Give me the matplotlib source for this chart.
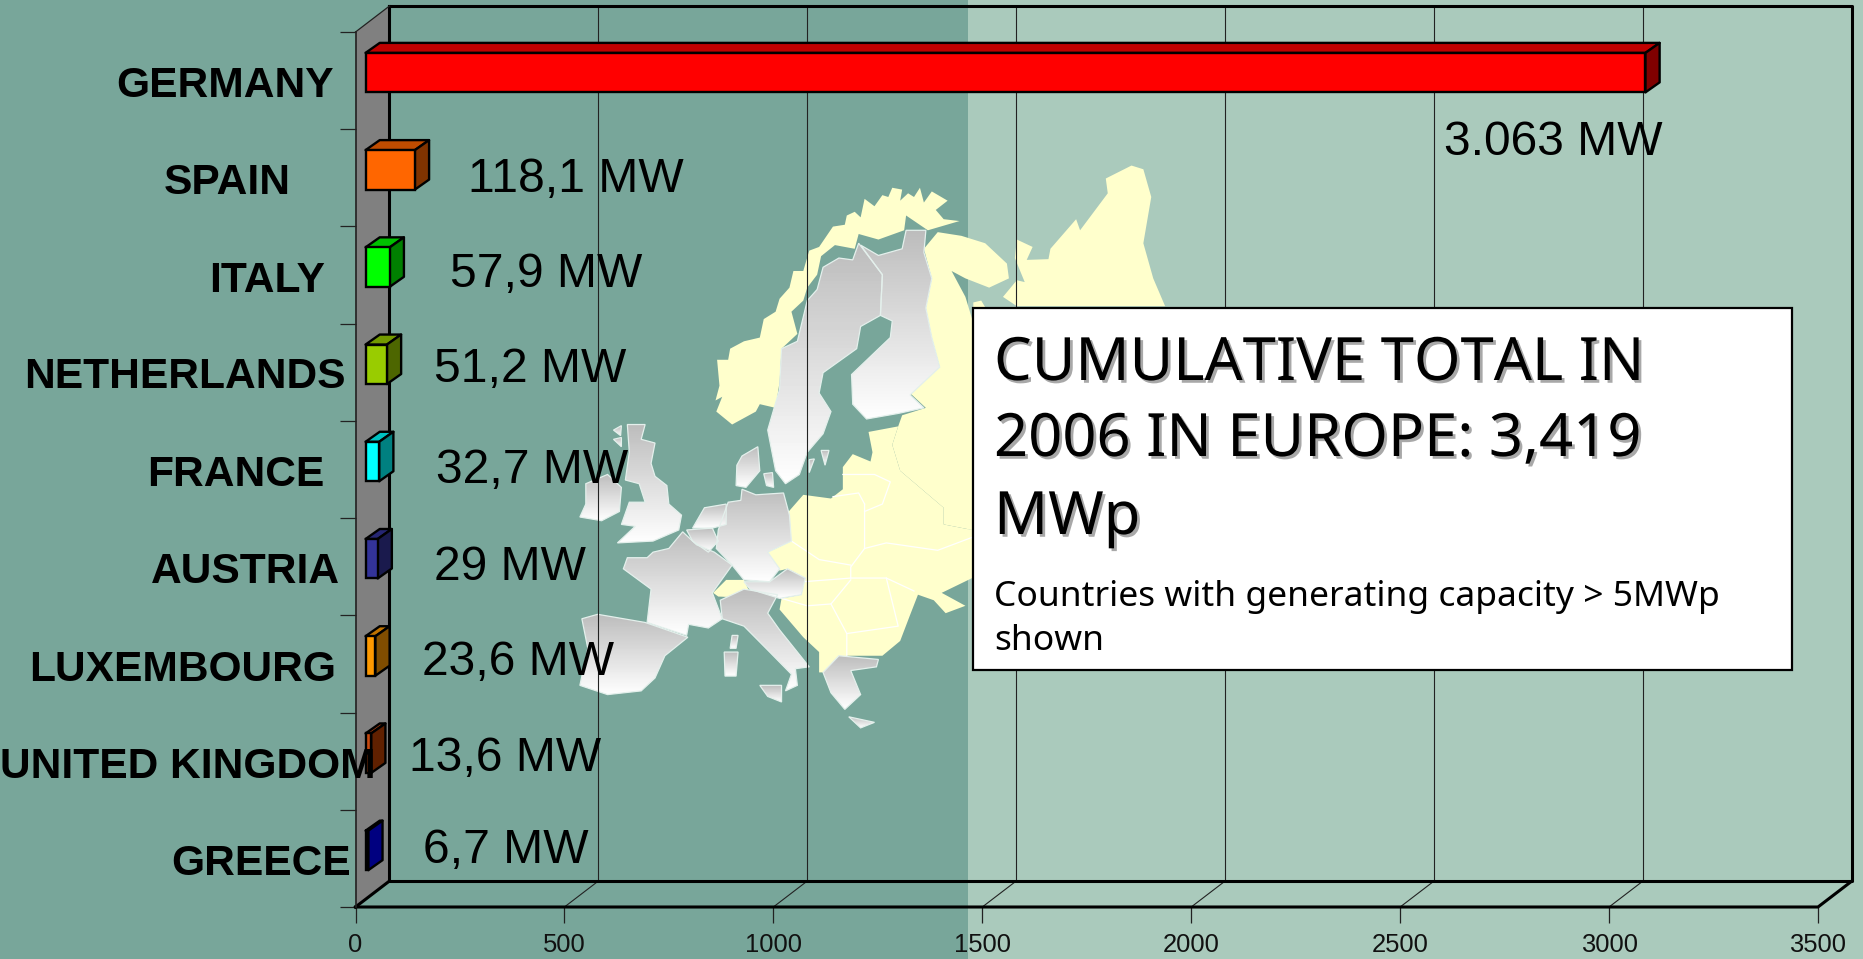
import numpy as np
import matplotlib
matplotlib.use('Agg')
import matplotlib.pyplot as plt
import matplotlib.patheffects as pe
from matplotlib.patches import Polygon, Rectangle

countries = ['GERMANY', 'SPAIN', 'ITALY', 'NETHERLANDS', 'FRANCE', 'AUSTRIA',
             'LUXEMBOURG', 'UNITED KINGDOM', 'GREECE']
capacity = [3063, 118.1, 57.9, 51.2, 32.7, 29, 23.6, 13.6, 6.7]
value_labels = ['3.063 MW', '118,1 MW', '57,9 MW', '51,2 MW', '32,7 MW', '29 MW',
                '23,6 MW', '13,6 MW', '6,7 MW']
x_ticks = [0, 500, 1000, 1500, 2000, 2500, 3000, 3500]

front_colors = ['#ff0000', '#ff6600', '#00ff00', '#99cc00', '#00ffff', '#333399',
                '#ff9900', '#c84a10', '#0000a0']
top_colors = ['#c00000', '#c04c00', '#00c000', '#739900', '#00c0c0', '#262673',
              '#c07300', '#963810', '#000080']
side_colors = ['#800000', '#803300', '#008000', '#4d6600', '#008080', '#1a1a4d',
               '#804d00', '#602000', '#000080']

# label placement, in pixels of the picture (text boxes sit freely on the slide)
name_right = [334, 291, 325, 346, 324, 340, 336, 376, 351]
name_base = [97, 194, 292, 388, 486, 583, 681, 778, 875]
value_left = [1444, 468, 450, 434, 436, 434, 422, 409, 423]
value_base = [155, 192, 287, 382, 483, 580, 675, 771, 863]

LEFT_BG = '#78a69a'
RIGHT_BG = '#aacabc'
YELLOW = '#ffffcc'

W, H = 1863, 959
fig = plt.figure(figsize=(W / 100, H / 100), dpi=100)

bg = fig.add_axes([0, 0, 1, 1], zorder=0)
bg.axis('off')
bg.add_patch(Rectangle((0, 0), 968, H, color=LEFT_BG, lw=0))
bg.add_patch(Rectangle((968, 0), W - 968, H, color=RIGHT_BG, lw=0))


def m(pts):
    a = np.array(pts, dtype=float)
    return np.column_stack([570 + a[:, 0] / 2.529, 160 + a[:, 1] / 2.703])


yellow_shapes = [
    # norway
    [(370, 680), (385, 640), (368, 650), (378, 610), (372, 540), (400, 540), (405, 510), (440, 490),
     (480, 480), (490, 430), (520, 410), (530, 375), (555, 345), (565, 300), (590, 300), (605, 245),
     (630, 235), (665, 180), (695, 175), (700, 150), (720, 140), (735, 155), (745, 105), (770, 125),
     (790, 95), (805, 100), (815, 75), (840, 80), (835, 110), (855, 90), (870, 100), (885, 75),
     (895, 115), (915, 85), (955, 110), (925, 135), (945, 160), (985, 165), (905, 190), (850, 150),
     (845, 190), (780, 215), (730, 200), (720, 240), (670, 230), (635, 260), (625, 310), (600, 345),
     (590, 380), (560, 410), (575, 470), (535, 510), (530, 600), (520, 670), (480, 660), (470, 680),
     (410, 715)],
    # kola and russia
    [(895, 240), (930, 195), (990, 205), (1050, 225), (1105, 280), (1110, 320), (1060, 345),
     (1000, 320), (965, 300), (1000, 370), (1017, 430), (1100, 500), (1100, 1130), (1017, 1130),
     (1017, 1000), (945, 985), (945, 940), (835, 840), (815, 770), (830, 720), (840, 690),
     (900, 670), (860, 630), (935, 560), (915, 480), (900, 400), (915, 320)],
    # north east, above the box
    [(1130, 215), (1170, 235), (1155, 270), (1210, 268), (1215, 240), (1280, 160), (1290, 190),
     (1360, 90), (1355, 50), (1420, 15), (1450, 25), (1470, 100), (1450, 225), (1475, 320),
     (1505, 395), (1130, 395), (1095, 370), (1130, 325), (1150, 330), (1125, 265)],
    [(1020, 385), (1040, 380), (1050, 398), (1020, 398)],
    # eastern europe
    [(545, 960), (590, 905), (660, 915), (690, 890), (690, 830), (715, 795), (760, 815), (765, 790),
     (755, 735), (830, 720), (815, 770), (835, 840), (945, 940), (945, 985), (1017, 1000),
     (1017, 1130), (940, 1170), (1000, 1205), (950, 1225), (920, 1190), (880, 1175), (860, 1230),
     (835, 1300), (790, 1340), (700, 1340), (670, 1385), (630, 1385), (630, 1330), (590, 1290),
     (530, 1215), (535, 1185), (585, 1175), (595, 1130), (550, 1105), (530, 1110), (500, 1060),
     (560, 1030)],
    # switzerland
    [(362, 1170), (395, 1135), (440, 1135), (455, 1170), (420, 1182), (375, 1180)],
]
for shape in yellow_shapes:
    bg.add_patch(Polygon(m(shape), closed=True, fc=YELLOW, ec='none'))

inner_borders = [
    [(745, 930), (745, 1050), (710, 1100), (710, 1130)],
    [(690, 850), (770, 850), (810, 870), (790, 930), (745, 950)],
    [(665, 910), (730, 900), (745, 930)],
    [(560, 1030), (630, 1080), (710, 1095)],
    [(745, 1050), (800, 1035), (930, 1055), (1017, 1020)],
    [(590, 1140), (710, 1130), (800, 1130), (870, 1165)],
    [(710, 1135), (660, 1200), (600, 1205), (535, 1185)],
    [(800, 1130), (830, 1260), (700, 1280), (700, 1340)],
    [(660, 1200), (700, 1280)],
]
for line in inner_borders:
    pts = m(line)
    bg.plot(pts[:, 0], pts[:, 1], color='white', lw=0.9)

grey_shapes = [
    # sweden
    [(730, 225), (790, 310), (785, 420), (735, 450), (725, 510), (640, 575), (630, 630), (660, 680),
     (640, 740), (600, 790), (580, 850), (545, 875), (520, 840), (500, 730), (530, 620), (535, 510),
     (575, 490), (600, 380), (625, 350), (640, 290), (680, 265), (715, 270)],
    # finland
    [(850, 190), (900, 190), (895, 250), (915, 320), (900, 400), (915, 480), (935, 560), (860, 635),
     (895, 670), (830, 685), (750, 700), (715, 660), (712, 580), (810, 480), (815, 435), (785, 420),
     (790, 310), (735, 230), (780, 258), (840, 240)],
    # uk
    [(145, 715), (190, 715), (180, 755), (215, 765), (205, 820), (215, 855), (245, 880), (250, 930),
     (282, 960), (275, 1000), (210, 1030), (120, 1035), (165, 990), (130, 985), (150, 925), (190, 925),
     (175, 875), (140, 865), (150, 790)],
    [(110, 730), (130, 718), (128, 745)],
    [(110, 755), (130, 750), (130, 775)],
    # ireland
    [(40, 875), (95, 850), (130, 885), (125, 950), (80, 975), (25, 965), (40, 930)],
    # denmark
    [(435, 800), (475, 775), (480, 840), (445, 885), (420, 880), (422, 825)],
    [(490, 848), (512, 845), (515, 885), (497, 880)],
    [(635, 785), (655, 785), (645, 825)],
    [(605, 810), (618, 808), (605, 845)],
    # germany
    [(435, 890), (470, 905), (540, 900), (555, 960), (560, 1030), (500, 1060), (530, 1105), (505, 1140),
     (440, 1135), (410, 1095), (370, 1050), (375, 1000), (400, 925), (432, 920)],
    # netherlands, belgium
    [(340, 940), (395, 930), (395, 985), (360, 995), (310, 995)],
    [(295, 1000), (360, 995), (375, 1030), (350, 1060), (310, 1030)],
    # france
    [(285, 1005), (320, 1040), (365, 1060), (410, 1095), (360, 1170), (385, 1240), (350, 1265),
     (300, 1255), (295, 1285), (195, 1250), (205, 1160), (135, 1105), (145, 1075), (195, 1075),
     (210, 1060), (250, 1050)],
    # spain
    [(30, 1240), (70, 1228), (190, 1250), (298, 1290), (240, 1340), (215, 1400), (180, 1435), (95, 1445),
     (25, 1420), (45, 1320)],
    # italy
    [(380, 1190), (440, 1160), (525, 1175), (500, 1225), (530, 1270), (605, 1370), (570, 1375),
     (575, 1420), (545, 1435), (560, 1390), (505, 1330), (440, 1260), (385, 1240)],
    [(390, 1330), (425, 1330), (420, 1395), (392, 1395)],
    [(410, 1285), (425, 1285), (420, 1320), (405, 1320)],
    [(480, 1420), (535, 1420), (535, 1465), (500, 1450)],
    # austria
    [(440, 1140), (505, 1140), (550, 1105), (595, 1130), (585, 1175), (530, 1185), (455, 1160)],
    # greece
    [(640, 1385), (680, 1340), (780, 1350), (775, 1370), (710, 1380), (735, 1445), (700, 1480),
     (695, 1485), (660, 1440)],
    [(705, 1505), (770, 1520), (735, 1535)],
]
ramp = np.linspace(0.74, 1.0, 64).reshape(-1, 1)
for shape in grey_shapes:
    pts = m(shape)
    poly = Polygon(pts, closed=True, fc='none', ec='#e4f0ec', lw=0.9, zorder=3)
    bg.add_patch(poly)
    im = bg.imshow(ramp, cmap='gray', vmin=0, vmax=1, aspect='auto', zorder=2,
                   extent=[pts[:, 0].min(), pts[:, 0].max(), pts[:, 1].max(), pts[:, 1].min()])
    im.set_clip_path(poly)
bg.set_xlim(0, W)
bg.set_ylim(H, 0)

# the chart, front plane of the oblique box
ax = fig.add_axes([355.5 / W, (H - 907) / H, (1818 - 355.5) / W, (907 - 32) / H], zorder=1)
ax.patch.set_visible(False)
for s in ax.spines.values():
    s.set_visible(False)
ax.set_xlim(0, 3500)
ax.set_ylim(8.5, -0.5)
ax.set_xticks(x_ticks)
ax.set_xticklabels([str(t) for t in x_ticks], fontsize=18.4, family='Liberation Sans', color='#111111')
ax.set_yticks(np.arange(-0.5, 9))
ax.set_yticklabels([])
ax.tick_params(axis='both', length=11.5, width=0.9, color='#222222')
ax.tick_params(axis='x', pad=7)

depth_x, depth_y = 81.3, 0.2675
top, bottom, xmax = -0.5, 8.5, 3500

ax.fill([0, depth_x, depth_x, 0], [top, top - depth_y, bottom - depth_y, bottom],
        fc='#808080', ec='none', clip_on=False, zorder=1)
for t in x_ticks[1:-1]:
    ax.plot([t + depth_x] * 2, [top - depth_y, bottom - depth_y], color='#222222', lw=0.8, clip_on=False, zorder=2)
    ax.plot([t, t + depth_x], [bottom, bottom - depth_y], color='#222222', lw=0.8, clip_on=False, zorder=2)

heavy = dict(color='black', lw=2.2, clip_on=False, zorder=3, solid_capstyle='projecting')
ax.plot([depth_x, xmax + depth_x, xmax + depth_x, depth_x, depth_x],
        [top - depth_y, top - depth_y, bottom - depth_y, bottom - depth_y, top - depth_y], **heavy)
ax.plot([0, xmax, xmax + depth_x], [bottom, bottom, bottom - depth_y], **heavy)
ax.plot([0, depth_x], [bottom, bottom - depth_y], **heavy)
ax.plot([0, 0], [top, bottom], color='#222222', lw=1.2, clip_on=False, zorder=3)
ax.plot([0, depth_x], [top, top - depth_y], color='#222222', lw=0.9, clip_on=False, zorder=3)

# 3d bars
start, shift_y = 24, 0.082
bar_h = 0.406
bar_dx, bar_dy = 34, 0.103
for i, v in enumerate(capacity):
    x0, x1 = start, start + v
    y0, y1 = i - shift_y - bar_h / 2, i - shift_y + bar_h / 2
    edge = dict(ec='black', lw=1.7, clip_on=False, zorder=4, joinstyle='round')
    ax.fill([x0, x0 + bar_dx, x1 + bar_dx, x1], [y0, y0 - bar_dy, y0 - bar_dy, y0], fc=top_colors[i], **edge)
    ax.fill([x1, x1 + bar_dx, x1 + bar_dx, x1], [y0, y0 - bar_dy, y1 - bar_dy, y1], fc=side_colors[i], **edge)
    ax.barh(i - shift_y, v, height=bar_h, left=x0, color=front_colors[i], edgecolor='black', linewidth=1.7,
            clip_on=False, zorder=4)

# text and the white box on top
over = fig.add_axes([0, 0, 1, 1], zorder=2)
over.axis('off')
over.set_xlim(0, W)
over.set_ylim(H, 0)

for name, xr, yb in zip(countries, name_right, name_base):
    over.text(xr, yb, name, ha='right', va='baseline', fontsize=30.6, fontweight='bold',
              family='Liberation Sans', color='black')
for lab, xl, yb in zip(value_labels, value_left, value_base):
    over.text(xl, yb, lab, ha='left', va='baseline', fontsize=34.6, family='Liberation Sans', color='black')

over.add_patch(Rectangle((973, 308), 819, 362, fc='white', ec='black', lw=1.6))
title_lines = ['CUMULATIVE TOTAL IN', '2006 IN EUROPE: 3,419', 'MWp']
title_base = [380, 456, 534]
sub_lines = ['Countries with generating capacity > 5MWp', 'shown']
sub_base = [606, 650]
shadow = [pe.withSimplePatchShadow(offset=(2, -2), shadow_rgbFace='#a8a8a8', alpha=1)]
for line, yb in zip(title_lines, title_base):
    over.text(994, yb, line, ha='left', va='baseline', fontsize=43, family='Noto Sans', color='black',
              path_effects=shadow)
for line, yb in zip(sub_lines, sub_base):
    over.text(994, yb, line, ha='left', va='baseline', fontsize=25.5, family='Noto Sans', color='black')

fig.savefig('out.png', dpi=100)
